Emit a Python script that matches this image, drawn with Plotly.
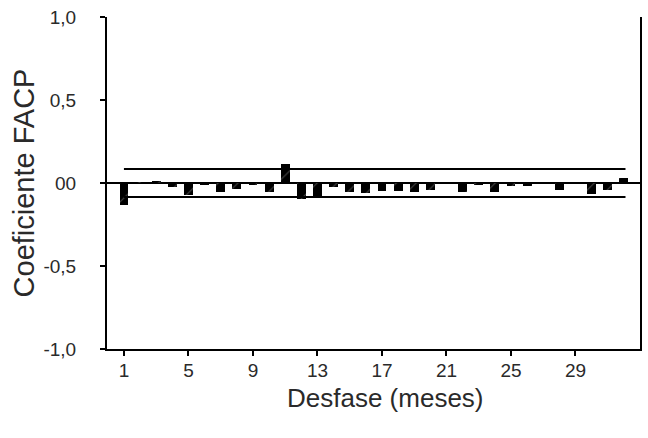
import plotly.graph_objects as go

lags = list(range(1, 33))
pacf = [-0.134, 0.005, 0.015, -0.025, -0.072, -0.010, -0.055, -0.038,
        -0.012, -0.052, 0.115, -0.095, -0.090, -0.025, -0.055, -0.060,
        -0.050, -0.050, -0.055, -0.040, 0.004, -0.055, -0.010, -0.055,
        -0.020, -0.020, -0.003, -0.040, 0.0, -0.065, -0.045, 0.030]
conf_limit = 0.085
conf_x = [1, 32.1]

y_tickvals = [-1.0, -0.5, 0.0, 0.5, 1.0]
y_ticktext = ["-1,0", "-0,5", "00", "0,5", "1,0"]
x_tickvals = [1, 5, 9, 13, 17, 21, 25, 29]
x_ticktext = ["1", "5", "9", "13", "17", "21", "25", "29"]
x_title = "Desfase (meses)"
y_title = "Coeficiente FACP"

FONT = "Liberation Sans, Arial, sans-serif"
TXT = "#2a2a2a"

fig = go.Figure()
fig.add_trace(go.Bar(
    x=lags, y=pacf, width=0.55,
    marker=dict(color="black", line=dict(width=0),
                pattern=dict(shape="/", fgcolor="#8a8a8a", bgcolor="black",
                             size=14, solidity=0.08)),
    showlegend=False,
))
for s in (1, -1):
    fig.add_trace(go.Scatter(
        x=conf_x, y=[s * conf_limit] * 2, mode="lines",
        line=dict(color="black", width=2), showlegend=False, hoverinfo="skip",
    ))

fig.update_layout(
    width=648, height=438,
    margin=dict(l=107, r=6, t=17, b=89),
    paper_bgcolor="white", plot_bgcolor="white",
    font=dict(family=FONT, color=TXT, size=19),
    bargap=0,
    annotations=[dict(
        text=x_title, xref="paper", yref="paper", x=0.522, y=-0.148,
        xanchor="center", yanchor="middle", showarrow=False,
        font=dict(size=26, family=FONT, color=TXT),
    )],
)
fig.update_xaxes(
    range=[-0.05, 33.0], tickvals=x_tickvals, ticktext=x_ticktext,
    showgrid=False, zeroline=False,
    showline=True, linecolor="black", linewidth=2,
    ticks="outside", ticklen=5, tickwidth=2, tickcolor="black",
    ticklabelstandoff=-2,
    tickfont=dict(size=19, family=FONT, color=TXT),
)
fig.update_yaxes(
    range=[-1.0, 1.0], tickvals=y_tickvals, ticktext=y_ticktext,
    showgrid=False, zeroline=True, zerolinecolor="black", zerolinewidth=2,
    showline=True, linecolor="black", linewidth=2, mirror=True,
    ticks="outside", ticklen=5, tickwidth=2, tickcolor="black",
    ticklabelstandoff=20,
    tickfont=dict(size=19, family=FONT, color=TXT),
    title=dict(text=y_title, font=dict(size=29, family=FONT, color=TXT),
               standoff=0),
)
fig.write_html("out.html")
